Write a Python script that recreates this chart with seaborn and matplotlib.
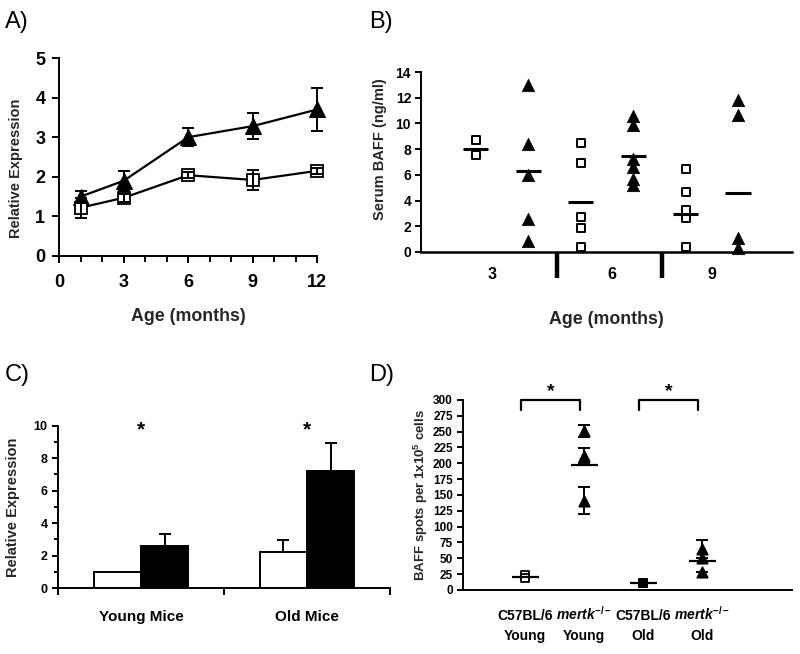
import matplotlib
matplotlib.use("Agg")
import matplotlib.pyplot as plt
from matplotlib import font_manager
from matplotlib.ticker import MultipleLocator, FixedLocator
import pandas as pd
import seaborn as sns

sns.set_theme(style="ticks", context="notebook")

_names = {f.name for f in font_manager.fontManager.ttflist}
NARROW = "Liberation Sans Narrow" if "Liberation Sans Narrow" in _names else "Liberation Sans"

plt.rcParams["font.family"] = ["Liberation Sans", "DejaVu Sans"]
plt.rcParams["font.weight"] = "bold"
plt.rcParams["axes.labelweight"] = "bold"
plt.rcParams["mathtext.fontset"] = "custom"
plt.rcParams["mathtext.rm"] = "Liberation Sans:bold"
plt.rcParams["mathtext.bf"] = "Liberation Sans:bold"
plt.rcParams["mathtext.it"] = "Liberation Sans:italic:bold"
plt.rcParams["axes.linewidth"] = 1.4
for k in ["xtick.major.width", "ytick.major.width", "xtick.minor.width", "ytick.minor.width"]:
    plt.rcParams[k] = 1.4
plt.rcParams["axes.edgecolor"] = "black"
plt.rcParams["xtick.color"] = "black"
plt.rcParams["ytick.color"] = "black"

# ---- A) relative expression vs age ----
age_months = [1, 3, 6, 9, 12]
a_mertk = [1.50, 1.90, 3.00, 3.28, 3.70]
a_mertk_err = [0.15, 0.25, 0.22, 0.33, 0.55]
a_wt = [1.22, 1.47, 2.04, 1.92, 2.15]
a_wt_err = [0.25, 0.10, 0.07, 0.25, 0.08]
a_xticks = [0, 3, 6, 9, 12]

# ---- B) serum BAFF per animal ----
b_age_labels = ["3", "6", "9"]
b_label_pos = [1.3, 3.6, 5.5]
b_separators = [2.55, 4.55]
b_wt = [
    [8.7, 7.55],
    [8.45, 6.9, 2.76, 1.86, 0.41],
    [6.46, 4.63, 3.28, 2.64, 0.41],
]
b_ko = [
    [13.0, 8.4, 5.95, 2.6, 0.83],
    [10.6, 9.9, 7.2, 6.6, 5.7, 5.2],
    [11.86, 10.65, 1.1, 0.3],
]
b_wt_mean = [8.0, 3.85, 2.97]
b_ko_mean = [6.3, 7.5, 4.57]

# ---- C) relative expression, young vs old ----
c_groups = ["Young Mice", "Old Mice"]
c_wt = [1.0, 2.2]
c_wt_err = [0.0, 0.75]
c_ko = [2.6, 7.2]
c_ko_err = [0.75, 1.75]

# ---- D) BAFF ELISPOT ----
d_strain = ["C57BL/6", r"$\mathit{mertk}^{-/-}$", "C57BL/6", r"$\mathit{mertk}^{-/-}$"]
d_age = ["Young", "Young", "Old", "Old"]
d_wt_young = [24, 19]
d_ko_young = [251, 212, 141]
d_ko_young_err = [10, 12, 21]
d_wt_old = [11, 11]
d_ko_old = [65, 51, 29]
d_ko_old_err = [14, 0, 0]
d_means = [21, 197, 11.5, 46]

fig = plt.figure(figsize=(8.0, 6.54), dpi=100)


def style_axes(ax):
    sns.despine(ax=ax)
    ax.tick_params(direction="out", colors="black")


# ================= A =================
axA = fig.add_axes([0.074, 0.6086, 0.3225, 0.3027])
axA.errorbar(age_months, a_mertk, yerr=a_mertk_err, fmt="none", ecolor="black",
             elinewidth=1.4, capsize=4.5, capthick=1.4, zorder=4, clip_on=False)
axA.errorbar(age_months, a_wt, yerr=a_wt_err, fmt="none", ecolor="black",
             elinewidth=1.4, capsize=4.5, capthick=1.4, zorder=4, clip_on=False)
sns.lineplot(x=age_months, y=a_mertk, ax=axA, color="black", lw=1.6, marker="^",
             markersize=11, markerfacecolor="black", markeredgecolor="black",
             zorder=3, clip_on=False)
sns.lineplot(x=age_months, y=a_wt, ax=axA, color="black", lw=1.6, marker="s",
             markersize=8, markerfacecolor="white", markeredgecolor="black",
             markeredgewidth=1.3, zorder=3, clip_on=False)
axA.set_xlim(0, 12)
axA.set_ylim(0, 5)
axA.xaxis.set_major_locator(FixedLocator(a_xticks))
axA.xaxis.set_minor_locator(MultipleLocator(1))
axA.yaxis.set_major_locator(MultipleLocator(1))
style_axes(axA)
axA.tick_params(which="major", length=5, labelsize=13)
axA.tick_params(axis="y", pad=5)
axA.tick_params(axis="x", pad=8)
axA.tick_params(which="minor", axis="x", length=4)
axA.set_xlabel("Age (months)", fontsize=12.8, labelpad=12)
axA.set_ylabel("Relative Expression", fontsize=10.5)
axA.yaxis.set_label_coords(-0.14, 0.445)

# ================= B =================
axB = fig.add_axes([0.526, 0.6147, 0.464, 0.2752])
rows = []
for i, lab in enumerate(b_age_labels):
    for v in b_wt[i]:
        rows.append({"slot": 2 * i + 1, "value": v, "strain": "wt"})
    for v in b_ko[i]:
        rows.append({"slot": 2 * i + 2, "value": v, "strain": "ko"})
dfB = pd.DataFrame(rows)
sns.scatterplot(data=dfB[dfB.strain == "wt"], x="slot", y="value", marker="s", s=36,
                facecolor="white", edgecolor="black", linewidth=1.4, ax=axB,
                zorder=3, clip_on=False)
sns.scatterplot(data=dfB[dfB.strain == "ko"], x="slot", y="value", marker="^", s=80,
                color="black", edgecolor="black", linewidth=0.5, ax=axB,
                zorder=3, clip_on=False)
for i in range(len(b_age_labels)):
    axB.hlines(b_wt_mean[i], 2 * i + 1 - 0.24, 2 * i + 1 + 0.24, color="black", lw=2.2, zorder=4)
    axB.hlines(b_ko_mean[i], 2 * i + 2 - 0.24, 2 * i + 2 + 0.24, color="black", lw=2.2, zorder=4)
axB.set_xlim(-0.05, 7.03)
axB.set_ylim(0, 14)
axB.yaxis.set_major_locator(MultipleLocator(2))
axB.set_xticks(b_label_pos)
axB.set_xticklabels(b_age_labels)
axB.xaxis.set_minor_locator(FixedLocator(b_separators))
style_axes(axB)
axB.spines["bottom"].set_linewidth(1.8)
axB.tick_params(axis="x", which="major", length=0, labelsize=11.5, pad=11)
axB.tick_params(axis="x", which="minor", length=19, width=3.2)
axB.tick_params(axis="y", length=4, labelsize=10, pad=3, labelfontfamily=NARROW)
axB.set_xlabel("Age (months)", fontsize=12.8, labelpad=20)
axB.set_ylabel("Serum BAFF (ng/ml)", fontsize=10.5)
axB.yaxis.set_label_coords(-0.092, 0.57)

# ================= C =================
axC = fig.add_axes([0.0725, 0.1009, 0.415, 0.248])
dfC = pd.DataFrame({
    "group": c_groups * 2,
    "strain": ["wt"] * len(c_groups) + ["ko"] * len(c_groups),
    "value": c_wt + c_ko,
})
sns.barplot(data=dfC, x="group", y="value", hue="strain", hue_order=["wt", "ko"],
            palette=["white", "black"], edgecolor="black", linewidth=1.4,
            width=0.57, errorbar=None, legend=False, ax=axC, zorder=2)
errs = c_wt_err + c_ko_err
for patch, e in zip(axC.patches, errs):
    if e > 0:
        xc = patch.get_x() + patch.get_width() / 2
        axC.errorbar(xc, patch.get_height(), yerr=[[0], [e]], fmt="none", ecolor="black",
                     elinewidth=1.4, capsize=4.5, capthick=1.4, zorder=1)
for i in range(len(c_groups)):
    axC.text(i, 9.75, "*", ha="center", va="center", fontsize=15, color="black")
axC.set_xlim(-0.5, 1.5)
axC.set_ylim(0, 10)
axC.yaxis.set_major_locator(MultipleLocator(2))
axC.yaxis.set_minor_locator(MultipleLocator(1))
axC.xaxis.set_minor_locator(FixedLocator([-0.5, 0.5, 1.5]))
style_axes(axC)
axC.tick_params(axis="x", which="major", length=0, labelsize=11, pad=16)
axC.tick_params(axis="x", which="minor", length=5)
axC.tick_params(axis="y", which="major", length=4, labelsize=9, labelfontfamily=NARROW)
axC.tick_params(axis="y", which="minor", length=3)
axC.set_xlabel("")
axC.set_ylabel("Relative Expression", fontsize=10.5)
axC.yaxis.set_label_coords(-0.114, 0.5)

# ================= D =================
axD = fig.add_axes([0.579, 0.0979, 0.411, 0.2905])
d_series = [d_wt_young, d_ko_young, d_wt_old, d_ko_old]
d_markers = ["s", "^", "s", "^"]
d_errs = [None, d_ko_young_err, None, d_ko_old_err]
for i, vals in enumerate(d_series):
    xs = [i] * len(vals)
    if d_errs[i] is not None:
        axD.errorbar(xs, vals, yerr=d_errs[i], fmt="none", ecolor="black",
                     elinewidth=1.4, capsize=4.0, capthick=1.4, zorder=4)
    face = "white" if (i == 0) else "black"
    sns.scatterplot(x=xs, y=vals, marker=d_markers[i], s=55 if d_markers[i] == "^" else 40,
                    facecolor=face, edgecolor="black", linewidth=1.3, ax=axD, zorder=3)
    axD.hlines(d_means[i], i - 0.23, i + 0.23, color="black", lw=1.6, zorder=5)
for a, b in [(0, 1), (2, 3)]:
    axD.plot([a - 0.07, a - 0.07, b - 0.07, b - 0.07], [284, 300, 300, 284], color="black",
             lw=1.6, clip_on=False)
    axD.text((a + b) / 2 - 0.07, 314, "*", ha="center", va="center", fontsize=14, color="black")
axD.set_xlim(-1.05, 4.52)
axD.set_ylim(0, 300)
axD.yaxis.set_major_locator(MultipleLocator(25))
axD.set_xticks(range(len(d_strain)))
axD.set_xticklabels([])
style_axes(axD)
axD.tick_params(axis="x", length=0)
axD.tick_params(axis="y", length=4, labelsize=8.5, labelfontfamily=NARROW)
tr = axD.get_xaxis_transform()
for i in range(len(d_strain)):
    axD.text(i, -0.158, d_strain[i], transform=tr, ha="center", va="baseline",
             fontsize=10, family=NARROW, color="black")
    axD.text(i, -0.265, d_age[i], transform=tr, ha="center", va="baseline",
             fontsize=10, family=NARROW, color="black")
axD.set_ylabel(r"BAFF spots per 1x10$^{5}$ cells", fontsize=9.5)
axD.yaxis.set_label_coords(-0.10, 0.5)

# panel letters
for lab, x, y in [("A)", 0.006, 0.966), ("B)", 0.462, 0.966), ("C)", 0.006, 0.427), ("D)", 0.462, 0.427)]:
    fig.text(x, y, lab, fontsize=17, fontweight="normal", va="center", ha="left", color="black")

fig.savefig("out.png", dpi=100)
